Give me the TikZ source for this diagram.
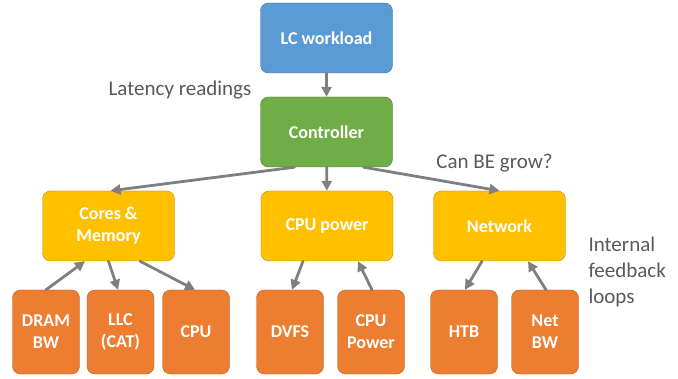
\documentclass[tikz,border=0pt]{standalone}
\usepackage{fontspec}
\setmainfont{Carlito}
\usetikzlibrary{arrows.meta}

\definecolor{lcblue}{HTML}{5B9BD5}
\definecolor{ctrlgreen}{HTML}{70AD47}
\definecolor{knobyellow}{HTML}{FFC000}
\definecolor{leaforange}{HTML}{ED7D31}
\definecolor{arrowgray}{HTML}{7F7F7F}
\definecolor{notegray}{HTML}{595959}

\begin{document}
\begin{tikzpicture}[x=1pt, y=1pt, line cap=round]

%---- STYLES ----
\tikzset{
    box/.style={rounded corners=8pt, thin, text=white, align=center,
        font=\bfseries\fontsize{18}{22}\selectfont, inner sep=2pt},
    wide/.style={box, minimum width=132pt, minimum height=70pt},
    leaf/.style={box, minimum width=67pt, minimum height=84pt,
        fill=leaforange, draw=leaforange!75!black},
    arr/.style={-{Triangle[length=10pt, width=10pt]}, line width=2.8pt, arrowgray},
    note/.style={text=notegray, font=\fontsize{21}{25.6}\selectfont},
}

\useasboundingbox (0,0) rectangle (678,378);

% TOP OF THE LOOP
\node[wide, fill=lcblue, draw=lcblue!70!black] (lc) at (326.5,340) {LC workload};
\node[wide, fill=ctrlgreen, draw=ctrlgreen!70!black] (ctrl) at (326.5,246) {Controller};

% SUBCONTROLLERS
\node[wide, fill=knobyellow, draw=knobyellow!75!black] (cores) at (108.5,152) {Cores \&\\Memory};
\node[wide, fill=knobyellow, draw=knobyellow!75!black] (power) at (327,152) {CPU power};
\node[wide, fill=knobyellow, draw=knobyellow!75!black] (net) at (499.5,152) {Network};

% KNOBS AND SENSORS
\node[leaf] (dram) at (46,46) {DRAM\\BW};
\node[leaf] (llc) at (120.5,46) {LLC\\(CAT)};
\node[leaf] (cpu) at (196,46) {CPU};
\node[leaf] (dvfs) at (290,46) {DVFS};
\node[leaf] (cpupow) at (371,46) {CPU\\Power};
\node[leaf] (htb) at (464,46) {HTB};
\node[leaf] (netbw) at (545,46) {Net\\BW};

%---- ARROWS ----
\draw[arr] (lc) -- (ctrl);
\draw[arr] ([xshift=-32pt]ctrl.south) -- ([xshift=2pt]cores.north);
\draw[arr] (ctrl) -- (power);
\draw[arr] ([xshift=37pt]ctrl.south) -- (net.north);

\draw[arr] (dram.north) -- ([xshift=-23.5pt]cores.south);
\draw[arr] (cores.south) -- ([xshift=-2.5pt]llc.north);
\draw[arr] ([xshift=31.5pt]cores.south) -- ([xshift=-1pt]cpu.north);

\draw[arr] ([xshift=-24pt]power.south) -- ([xshift=2pt]dvfs.north);
\draw[arr] ([xshift=1pt]cpupow.north) -- ([xshift=31pt]power.south);

\draw[arr] ([xshift=-17.5pt]net.south) -- ([xshift=1pt]htb.north);
\draw[arr] ([xshift=1pt]netbw.north) -- ([xshift=28.5pt]net.south);

%--- LABELS
\node[note] (lat) at (180,288) {Latency readings};
\node[note] (grow) at (494.5,215) {Can BE grow?};
\node[note, anchor=west, align=left] (loops) at (585,106) {Internal\\feedback\\loops};

\end{tikzpicture}
\end{document}
